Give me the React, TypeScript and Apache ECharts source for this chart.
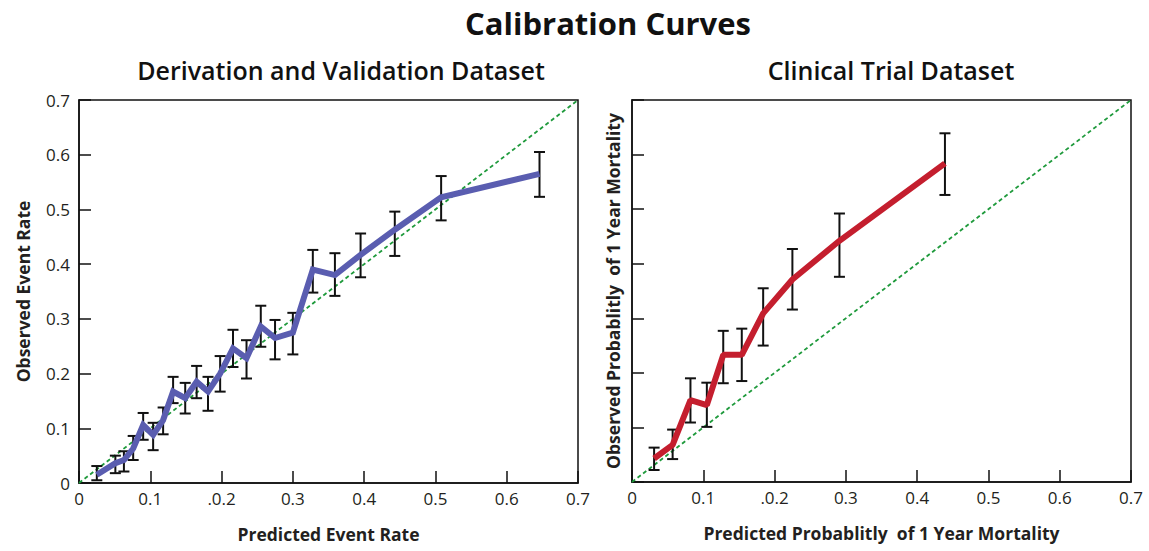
import React, { useEffect, useRef } from "react";
import * as echarts from "echarts";

const xTickLabels = ["0", "0.1", ".0.2", "0.3", "0.4", "0.5", "0.6", "0.7"];
const yTickLabels = ["0", "0.1", "0.2", "0.3", "0.4", "0.5", "0.6", "0.7"];

const leftX = [0.025, 0.051, 0.063, 0.076, 0.09, 0.104, 0.118, 0.132, 0.149, 0.165, 0.181, 0.198, 0.216, 0.235, 0.255, 0.275, 0.3, 0.328, 0.359, 0.395, 0.443, 0.508, 0.646];
const leftY = [0.015, 0.036, 0.042, 0.063, 0.106, 0.088, 0.115, 0.167, 0.155, 0.185, 0.167, 0.2, 0.246, 0.228, 0.286, 0.265, 0.275, 0.39, 0.38, 0.417, 0.463, 0.522, 0.565];
const leftHigh = [0.031, 0.05, 0.058, 0.086, 0.128, 0.11, 0.138, 0.194, 0.183, 0.214, 0.194, 0.232, 0.28, 0.261, 0.324, 0.298, 0.311, 0.426, 0.42, 0.456, 0.496, 0.561, 0.605];
const leftLow = [0.005, 0.018, 0.021, 0.042, 0.079, 0.06, 0.089, 0.146, 0.127, 0.155, 0.132, 0.167, 0.212, 0.191, 0.249, 0.226, 0.235, 0.348, 0.342, 0.376, 0.415, 0.48, 0.523];

const rightX = [0.031, 0.057, 0.082, 0.105, 0.128, 0.154, 0.184, 0.225, 0.291, 0.439];
const rightY = [0.043, 0.068, 0.15, 0.141, 0.233, 0.233, 0.309, 0.371, 0.442, 0.584];
const rightHigh = [0.063, 0.096, 0.19, 0.182, 0.277, 0.281, 0.355, 0.427, 0.492, 0.639];
const rightLow = [0.022, 0.042, 0.109, 0.101, 0.181, 0.185, 0.25, 0.316, 0.376, 0.526];

const diagonal = [[0, 0], [0.7, 0.7]];

const FONT = "'Open Sans', 'Noto Sans', sans-serif";
const TEXT = "#231f20";

function errorBarRender(params: any, api: any) {
  const x = api.value(0);
  const lo = api.value(1);
  const hi = api.value(2);
  const p1 = api.coord([x, lo]);
  const p2 = api.coord([x, hi]);
  const hw = 5.5;
  const style = { stroke: "#111", lineWidth: 2 };
  return {
    type: "group",
    children: [
      { type: "line", shape: { x1: p1[0], y1: p1[1], x2: p2[0], y2: p2[1] }, style },
      { type: "line", shape: { x1: p1[0] - hw, y1: p1[1], x2: p1[0] + hw, y2: p1[1] }, style },
      { type: "line", shape: { x1: p2[0] - hw, y1: p2[1], x2: p2[0] + hw, y2: p2[1] }, style },
    ],
  };
}

function makeXAxis(gridIndex: number, name: string) {
  return {
    type: "value",
    gridIndex,
    min: 0,
    max: 0.7,
    interval: 0.1,
    name,
    nameLocation: "middle",
    nameGap: 42,
    nameTextStyle: { fontFamily: FONT, fontSize: 17.5, fontWeight: "bold", color: TEXT },
    axisLine: { show: true, lineStyle: { color: "#111", width: 1.5 } },
    axisTick: { show: true, inside: true, length: 12, lineStyle: { color: "#111", width: 1.5 } },
    axisLabel: {
      show: true,
      margin: 7,
      fontFamily: FONT,
      fontSize: 17,
      color: TEXT,
      formatter: (v: number) => xTickLabels[Math.round(v * 10)],
    },
    splitLine: { show: false },
  };
}

function makeYAxis(gridIndex: number, name: string, showLabels: boolean, nameGap: number) {
  return {
    type: "value",
    gridIndex,
    min: 0,
    max: 0.7,
    interval: 0.1,
    name,
    nameLocation: "middle",
    nameGap,
    nameTextStyle: { fontFamily: FONT, fontSize: 17.5, fontWeight: "bold", color: TEXT },
    axisLine: { show: true, lineStyle: { color: "#111", width: 1.5 } },
    axisTick: { show: true, inside: true, length: 12, lineStyle: { color: "#111", width: 1.5 } },
    axisLabel: {
      show: showLabels,
      margin: 9,
      fontFamily: FONT,
      fontSize: 17,
      color: TEXT,
      formatter: (v: number) => yTickLabels[Math.round(v * 10)],
    },
    splitLine: { show: false },
  };
}

export default function App() {
  const ref = useRef<HTMLDivElement>(null);
  useEffect(() => {
    if (!ref.current) return;
    const chart = echarts.init(ref.current, null, { renderer: "svg" });
    const option: any = {
      animation: false,
      backgroundColor: "#ffffff",
      title: [
        {
          text: "Calibration Curves",
          left: 603,
          top: 2,
          textAlign: "center",
          textStyle: { fontFamily: FONT, fontSize: 31, fontWeight: "bold", color: "#111" },
        },
        {
          text: "Derivation and Validation Dataset",
          left: 336,
          top: 52,
          textAlign: "center",
          textStyle: { fontFamily: FONT, fontSize: 25, fontWeight: 600, color: "#111" },
        },
        {
          text: "Clinical Trial Dataset",
          left: 886,
          top: 52,
          textAlign: "center",
          textStyle: { fontFamily: FONT, fontSize: 25, fontWeight: 600, color: "#111" },
        },
      ],
      grid: [
        { left: 79, top: 100, width: 499, height: 383, show: true, borderColor: "#111", borderWidth: 1.5, backgroundColor: "transparent" },
        { left: 632, top: 100, width: 499, height: 382, show: true, borderColor: "#111", borderWidth: 1.5, backgroundColor: "transparent" },
      ],
      xAxis: [
        makeXAxis(0, "Predicted Event Rate"),
        makeXAxis(1, "Predicted Probablitly  of 1 Year Mortality"),
      ],
      yAxis: [
        makeYAxis(0, "Observed Event Rate", true, 47),
        makeYAxis(1, "Observed Probablitly  of 1 Year Mortality", false, 10),
      ],
      series: [
        {
          type: "line",
          xAxisIndex: 0,
          yAxisIndex: 0,
          data: diagonal,
          symbol: "none",
          lineStyle: { color: "#1f9a3c", width: 1.8, type: [4, 3] },
          z: 1,
        },
        {
          type: "custom",
          xAxisIndex: 0,
          yAxisIndex: 0,
          renderItem: errorBarRender,
          encode: { x: 0, y: [1, 2] },
          data: leftX.map((x, i) => [x, leftLow[i], leftHigh[i]]),
          z: 2,
        },
        {
          type: "line",
          xAxisIndex: 0,
          yAxisIndex: 0,
          data: leftX.map((x, i) => [x, leftY[i]]),
          symbol: "none",
          lineStyle: { color: "#5a5db0", width: 6, join: "miter" },
          z: 3,
        },
        {
          type: "line",
          xAxisIndex: 1,
          yAxisIndex: 1,
          data: diagonal,
          symbol: "none",
          lineStyle: { color: "#1f9a3c", width: 1.8, type: [4, 3] },
          z: 1,
        },
        {
          type: "custom",
          xAxisIndex: 1,
          yAxisIndex: 1,
          renderItem: errorBarRender,
          encode: { x: 0, y: [1, 2] },
          data: rightX.map((x, i) => [x, rightLow[i], rightHigh[i]]),
          z: 2,
        },
        {
          type: "line",
          xAxisIndex: 1,
          yAxisIndex: 1,
          data: rightX.map((x, i) => [x, rightY[i]]),
          symbol: "none",
          lineStyle: { color: "#c41e2e", width: 6 },
          z: 3,
        },
      ],
    };
    chart.setOption(option);
    return () => chart.dispose();
  }, []);
  return (
    <div
      ref={ref}
      style={{ position: "fixed", left: 0, top: 0, width: 1149, height: 551, background: "#fff" }}
    />
  );
}
